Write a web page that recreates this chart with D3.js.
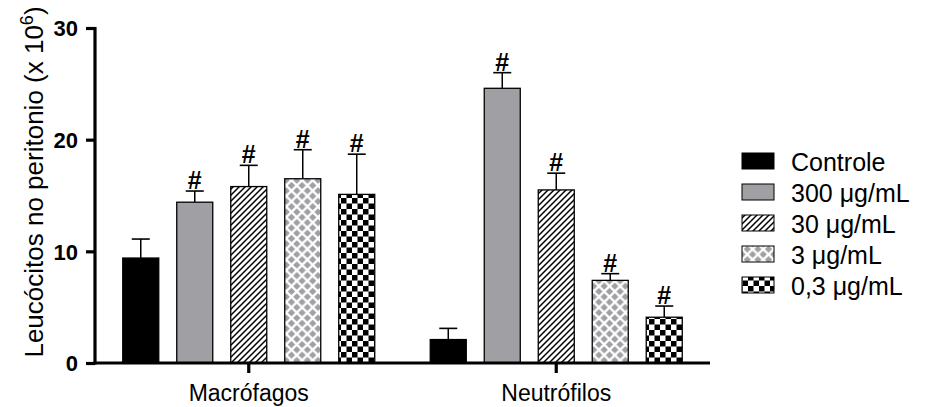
<!DOCTYPE html>
<html><head><meta charset="utf-8">
<script src="https://cdn.jsdelivr.net/npm/d3@7"></script>
<style>html,body{margin:0;padding:0;background:#fff;}svg{display:block;font-family:"Liberation Sans",Arial,sans-serif;}</style>
</head><body>
<svg id="chart" width="925" height="407"></svg>
<script>
const categories = ["Macrófagos", "Neutrófilos"];
const seriesNames = ["Controle", "300 μg/mL", "30 μg/mL", "3 μg/mL", "0,3 μg/mL"];
const macrofagosMean = [9.4, 14.4, 15.8, 16.5, 15.1];
const macrofagosErr  = [1.7, 1.0, 1.9, 2.6, 3.6];
const neutrofilosMean = [2.1, 24.6, 15.5, 7.4, 4.1];
const neutrofilosErr  = [1.0, 1.4, 1.5, 0.6, 1.0];
const macrofagosSig = [false, true, true, true, true];
const neutrofilosSig = [false, true, true, true, true];
const yTicks = [0, 10, 20, 30];

const groups = [
  {cat: categories[0], mean: macrofagosMean, err: macrofagosErr, sig: macrofagosSig},
  {cat: categories[1], mean: neutrofilosMean, err: neutrofilosErr, sig: neutrofilosSig}
];

const svg = d3.select("#chart");
const defs = svg.append("defs");
const GRAY = "#a0a0a4";

// patterns
const pHatch = defs.append("pattern").attr("id","p30").attr("patternUnits","userSpaceOnUse").attr("width",6).attr("height",6);
pHatch.append("rect").attr("width",6).attr("height",6).attr("fill","#fff");
pHatch.append("path").attr("d","M-1,1 L1,-1 M0,6 L6,0 M5,7 L7,5").attr("stroke","#000").attr("stroke-width",1.5);

const PD = 10.6;
const pDia = defs.append("pattern").attr("id","p3").attr("patternUnits","userSpaceOnUse").attr("width",PD).attr("height",PD);
pDia.append("rect").attr("width",PD).attr("height",PD).attr("fill","#fff");
const dh = 3.7;
[[PD/2,PD/2],[0,0],[PD,0],[0,PD],[PD,PD]].forEach(([cx,cy]) => {
  pDia.append("path").attr("d",`M${cx},${cy-dh} L${cx+dh},${cy} L${cx},${cy+dh} L${cx-dh},${cy} Z`).attr("fill",GRAY);
});

const PC = 11;
const pChk = defs.append("pattern").attr("id","p03").attr("patternUnits","userSpaceOnUse").attr("width",PC).attr("height",PC);
pChk.append("rect").attr("width",PC).attr("height",PC).attr("fill","#fff");
pChk.append("rect").attr("x",0).attr("y",0).attr("width",PC/2).attr("height",PC/2).attr("fill","#000");
pChk.append("rect").attr("x",PC/2).attr("y",PC/2).attr("width",PC/2).attr("height",PC/2).attr("fill","#000");

const fills = ["#000", GRAY, "url(#p30)", "url(#p3)", "url(#p03)"];

const x0 = d3.scaleBand().domain(categories).range([95, 710]).paddingInner(0).paddingOuter(0);
const x1 = d3.scaleBand().domain(seriesNames).range([0, x0.bandwidth()]).paddingInner(0.333).paddingOuter(0.514);
const y = d3.scaleLinear().domain([0, 30]).range([363, 28]);

// bars
groups.forEach(g => {
  const gx = x0(g.cat);
  seriesNames.forEach((s, i) => {
    const bx = gx + x1(s);
    const bw = x1.bandwidth();
    const cx = bx + bw / 2;
    const top = y(g.mean[i] + g.err[i]);
    svg.append("line").attr("x1",cx).attr("x2",cx).attr("y1",y(g.mean[i])).attr("y2",top).attr("stroke","#000").attr("stroke-width",1.5);
    svg.append("line").attr("x1",cx-9).attr("x2",cx+9).attr("y1",top).attr("y2",top).attr("stroke","#000").attr("stroke-width",1.6);
    svg.append("rect").attr("x",bx).attr("y",y(g.mean[i])).attr("width",bw).attr("height",y(0)-y(g.mean[i]))
      .attr("fill",fills[i]).attr("stroke","#000").attr("stroke-width",1.3);
    if (g.sig[i]) {
      svg.append("text").attr("x",cx).attr("y",top-2).attr("text-anchor","middle")
        .attr("font-size",25).attr("font-weight","bold").attr("fill","#000").text("#");
    }
  });
});

// y axis
const yAxis = svg.append("g").attr("transform","translate(95,0)")
  .call(d3.axisLeft(y).tickValues(yTicks).tickSize(9).tickPadding(8).tickFormat(d3.format("d")));
yAxis.select(".domain").attr("d","M0,27 L0,364.5").attr("stroke","#000").attr("stroke-width",3.2).style("stroke-width","3.2px");
yAxis.selectAll(".tick line").attr("stroke","#000").attr("stroke-width",3.2).style("stroke-width","3.2px");
yAxis.selectAll(".tick text").attr("font-size",22).attr("font-weight","bold").attr("fill","#000")
  .attr("font-family","'Liberation Sans',Arial,sans-serif").attr("dy","0.36em");

// x axis
const xAxis = svg.append("g").attr("transform","translate(0,363)")
  .call(d3.axisBottom(x0).tickSize(10).tickPadding(12));
xAxis.select(".domain").attr("d","M93.4,0 L710,0").attr("stroke","#000").attr("stroke-width",3.2).style("stroke-width","3.2px");
xAxis.selectAll(".tick line").attr("stroke","#000").attr("stroke-width",3.2).style("stroke-width","3.2px");
xAxis.selectAll(".tick text").attr("font-size",23).attr("fill","#000")
  .attr("font-family","'Liberation Sans',Arial,sans-serif").attr("dy","0.71em");

// y title
const yt = svg.append("text").attr("transform","translate(43,182) rotate(-90)").attr("text-anchor","middle")
  .attr("font-size",26).attr("fill","#000");
yt.append("tspan").text("Leucócitos no peritonio (x 10");
yt.append("tspan").attr("dy",-10).attr("font-size",18).text("6");
yt.append("tspan").attr("dy",10).text(")");

// legend
const legend = svg.append("g");
seriesNames.forEach((s, i) => {
  const ly = 153 + i * 31;
  legend.append("rect").attr("x",742).attr("y",ly).attr("width",32).attr("height",16)
    .attr("fill",fills[i]).attr("stroke","#000").attr("stroke-width",1);
  legend.append("text").attr("x",791).attr("y",ly+17.5).attr("font-size",25).attr("fill","#000").text(s);
});
</script>
</body></html>
